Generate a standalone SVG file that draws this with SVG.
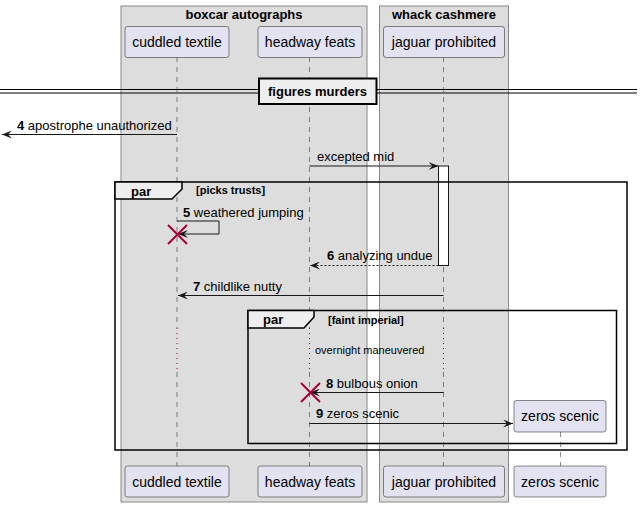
<svg xmlns="http://www.w3.org/2000/svg" width="642" height="508" viewBox="0 0 642 508">
<defs>
<style>
text{font-family:"Liberation Sans",Arial,sans-serif;fill:#000}
.box{fill:#DDDDDD;stroke:#888888;stroke-width:1}
.bt{font-size:13px;font-weight:bold;text-anchor:middle}
.p{fill:#E2E2F0;stroke:#181818;stroke-width:0.5}
.pt{font-size:14px;text-anchor:middle}
.life{stroke:#181818;stroke-width:0.5;stroke-dasharray:5,5;fill:none}
.dot{stroke:#A80036;stroke-width:1;stroke-dasharray:1,4;fill:none}
.msg{stroke:#181818;stroke-width:1;fill:none;marker-end:url(#ah)}
.dash{stroke-dasharray:2,2}
.mt{font-size:13px}
.n{font-weight:bold}
.frame{fill:none;stroke:#000;stroke-width:1.5}
.tab{fill:#EEEEEE;stroke:#000;stroke-width:1.5}
.ft{font-size:13px;font-weight:bold}
.gt{font-size:11px;font-weight:bold}
.x{stroke:#A80036;stroke-width:2}
</style>
<marker id="ah" viewBox="0 0 10 8" refX="10" refY="4" markerWidth="10" markerHeight="8" markerUnits="userSpaceOnUse" orient="auto">
<path d="M0,0 L10,4 L0,8 L4,4 Z" fill="#181818"/>
</marker>
</defs>
<rect width="642" height="508" fill="#FFFFFF"/>
<g id="box-boxcar-autographs">
<rect class="box" x="121" y="6" width="246" height="496"/>
<text class="bt" x="244" y="19">boxcar autographs</text>
</g>
<g id="box-whack-cashmere">
<rect class="box" x="379.5" y="6" width="129" height="496"/>
<text class="bt" x="444" y="19">whack cashmere</text>
</g>
<g id="lifelines">
<path class="life" d="M177,57 V328 M177,372 V466"/>
<path class="dot" d="M177,328 V372"/>
<path class="life" d="M309.5,57 V328 M309.5,372 V466"/>
<path class="dot" d="M309.5,328 V372"/>
<path class="life" d="M443.5,57 V328 M443.5,372 V466"/>
<path class="dot" d="M443.5,328 V372"/>
<path class="life" d="M560.5,432 V466"/>
</g>
<g id="divider">
<line x1="0" y1="89.5" x2="637" y2="89.5" stroke="#000" stroke-width="1"/>
<line x1="0" y1="93" x2="637" y2="93" stroke="#000" stroke-width="1"/>
<rect x="259" y="78.5" width="117.5" height="25.5" fill="#EEEEEE" stroke="#000" stroke-width="2"/>
<text class="ft" x="317.5" y="96" text-anchor="middle">figures murders</text>
</g>
<g id="activation">
<rect x="438.5" y="166" width="10" height="99.5" fill="#FFFFFF" stroke="#181818" stroke-width="1"/>
</g>
<g id="frames">
<rect class="frame" x="115" y="182" width="512" height="268"/>
<path class="tab" d="M115,182 H182 V189 L172,199 H115 Z"/>
<text class="ft" x="131" y="196">par</text>
<text class="gt" x="196" y="194">[picks trusts]</text>
<rect class="frame" x="248" y="310.5" width="368.5" height="133"/>
<path class="tab" d="M248,310.5 H314 V317 L304,328 H248 Z"/>
<text class="ft" x="263" y="324">par</text>
<text class="gt" x="328" y="324">[faint imperial]</text>
</g>
<g id="connectors">
<line class="msg" x1="177" y1="134.5" x2="2" y2="134.5"/>
<text class="mt" x="17" y="130"><tspan class="n">4</tspan> apostrophe unauthorized</text>
<line class="msg" x1="309.5" y1="166" x2="438.5" y2="166"/>
<text class="mt" x="317" y="161">excepted mid</text>
<polyline class="msg" points="177,221 219,221 219,234 178,234"/>
<text class="mt" x="183" y="217"><tspan class="n">5</tspan> weathered jumping</text>
<line class="msg dash" x1="438.5" y1="265.5" x2="310" y2="265.5"/>
<text class="mt" x="327" y="260"><tspan class="n">6</tspan> analyzing undue</text>
<line class="msg" x1="443.5" y1="295.5" x2="178" y2="295.5"/>
<text class="mt" x="193" y="291"><tspan class="n">7</tspan> childlike nutty</text>
<text x="315" y="354" font-size="11">overnight maneuvered</text>
<line class="msg" x1="443.5" y1="392.5" x2="310" y2="392.5"/>
<text class="mt" x="326" y="388"><tspan class="n">8</tspan> bulbous onion</text>
<line class="msg" x1="309.5" y1="423.5" x2="513" y2="423.5"/>
<text class="mt" x="316" y="418"><tspan class="n">9</tspan> zeros scenic</text>
</g>
<g id="destroy-cuddled">
<path class="x" d="M168,225 L187,244 M187,225 L168,244"/>
</g>
<g id="destroy-headway">
<path class="x" d="M301,383 L320,402 M320,383 L301,402"/>
</g>
<g id="p-cuddled-textile">
<rect class="p" x="125" y="26.5" width="104" height="31" rx="2.5"/>
<text class="pt" x="177" y="47">cuddled textile</text>
<rect class="p" x="125" y="466" width="104" height="31" rx="2.5"/>
<text class="pt" x="177" y="486.5">cuddled textile</text>
</g>
<g id="p-headway-feats">
<rect class="p" x="258" y="26.5" width="104" height="31" rx="2.5"/>
<text class="pt" x="310" y="47">headway feats</text>
<rect class="p" x="258" y="466" width="104" height="31" rx="2.5"/>
<text class="pt" x="310" y="486.5">headway feats</text>
</g>
<g id="p-jaguar-prohibited">
<rect class="p" x="383.5" y="26.5" width="121" height="31" rx="2.5"/>
<text class="pt" x="444" y="47">jaguar prohibited</text>
<rect class="p" x="383.5" y="466" width="121" height="31" rx="2.5"/>
<text class="pt" x="444" y="486.5">jaguar prohibited</text>
</g>
<g id="p-zeros-scenic">
<rect class="p" x="514" y="400.5" width="92" height="31.5" rx="2.5"/>
<text class="pt" x="560" y="421">zeros scenic</text>
<rect class="p" x="514" y="466" width="92" height="31" rx="2.5"/>
<text class="pt" x="560" y="486.5">zeros scenic</text>
</g>
</svg>
